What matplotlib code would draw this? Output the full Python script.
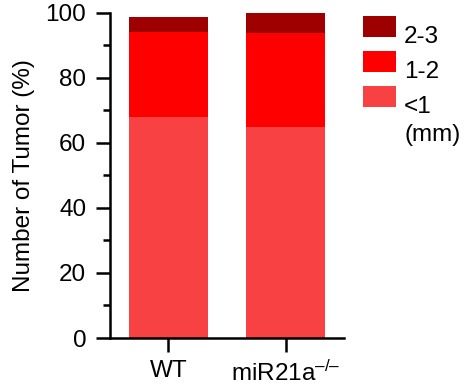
import matplotlib
matplotlib.use('Agg')
import matplotlib.pyplot as plt
import numpy as np
from matplotlib.patches import Rectangle

plt.rcParams['font.family'] = ['Liberation Sans', 'DejaVu Sans']
plt.rcParams['mathtext.fontset'] = 'custom'
plt.rcParams['mathtext.rm'] = 'Liberation Sans'
plt.rcParams['mathtext.default'] = 'regular'

# Tumor size distribution per genotype (%)
groups = ['WT', 'miR21a$^{–/–}$']
size_bins = ['<1', '1-2', '2-3']
lt1 = [68.0, 64.9]
s1_2 = [26.2, 28.9]
s2_3 = [4.6, 6.2]
colors = ['#f84142', '#ff0000', '#9e0000']

FS = 17.5

fig = plt.figure(figsize=(4.7, 3.87), dpi=100)
ax = fig.add_axes([0.234, 0.1266, 0.498, 0.84])

x = np.arange(len(groups))
bottom = np.zeros(len(groups))
for vals, c in zip([lt1, s1_2, s2_3], colors):
    ax.bar(x, vals, width=0.667, bottom=bottom, color=c, linewidth=0)
    bottom += np.array(vals)

ax.set_xlim(-0.5, 1.5)
ax.set_ylim(0, 100)
ax.set_xticks(x)
ax.set_xticklabels(groups, fontsize=FS)
ax.set_yticks(np.arange(0, 101, 20))
ax.set_yticks(np.arange(10, 100, 20), minor=True)
ax.tick_params(axis='y', which='major', length=10, width=1.8, labelsize=FS, pad=7)
ax.tick_params(axis='y', which='minor', length=5, width=1.8)
ax.tick_params(axis='x', length=10, width=1.8, pad=6)
ax.set_ylabel('Number of Tumor (%)', fontsize=FS, labelpad=8)
for s in ['top', 'right']:
    ax.spines[s].set_visible(False)
for s in ['left', 'bottom']:
    ax.spines[s].set_linewidth(1.8)
ax.spines['bottom'].set_bounds(-0.5, 1.5)

# Legend drawn in figure pixels, largest size on top
W, H = 470, 387
for i, (lab, c) in enumerate(zip(size_bins[::-1], colors[::-1])):
    top = 16 + 35 * i
    fig.patches.append(Rectangle((363 / W, 1 - (top + 21) / H), 33 / W, 21 / H,
                                 transform=fig.transFigure, color=c, lw=0))
    fig.text(404 / W, 1 - (top + 21) / H, lab, fontsize=FS, va='center')
fig.text(404 / W, 1 - 135 / H, '(mm)', fontsize=FS, va='center')

fig.savefig('out.png', dpi=100)
